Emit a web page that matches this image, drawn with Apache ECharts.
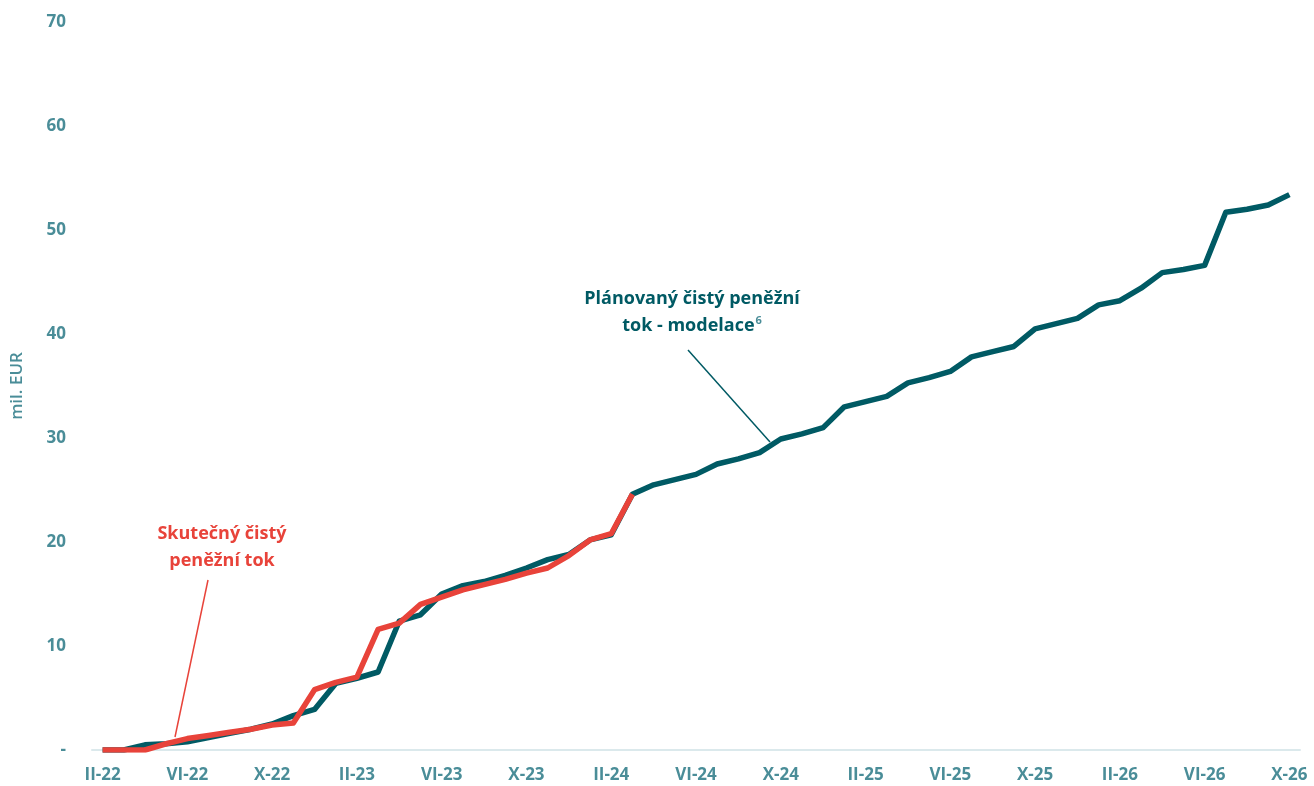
<!DOCTYPE html>
<html>
<head>
<meta charset="utf-8">
<script src="https://cdn.jsdelivr.net/npm/echarts@6/dist/echarts.min.js"></script>
<style>
  html, body { margin: 0; padding: 0; background: #fff; }
  #chart { width: 1314px; height: 786px; }
</style>
</head>
<body>
<div id="chart"></div>
<script>
  // měsíce II-22 .. X-26
  var roman = ['I', 'II', 'III', 'IV', 'V', 'VI', 'VII', 'VIII', 'IX', 'X', 'XI', 'XII']
  var months = []
  for (var y = 22; y <= 26; y++) {
    for (var m = 0; m < 12; m++) {
      if (y === 22 && m < 1) continue
      if (y === 26 && m > 9) continue
      months.push(roman[m] + '-' + y)
    }
  }

  // plánovaný čistý peněžní tok - modelace (mil. EUR)
  var planned = [
    0, 0, 0.5, 0.6, 0.8, 1.2, 1.6, 2.0, 2.5, 3.3,
    3.9, 6.4, 6.9, 7.5, 12.4, 13.0, 15.0, 15.8, 16.2, 16.8,
    17.5, 18.3, 18.8, 20.2, 20.7, 24.6, 25.5, 26.0, 26.5, 27.5,
    28.0, 28.6, 29.9, 30.4, 31.0, 33.0, 33.5, 34.0, 35.3, 35.8,
    36.4, 37.8, 38.3, 38.8, 40.5, 41.0, 41.5, 42.8, 43.2, 44.4,
    45.9, 46.2, 46.6, 51.7, 52.0, 52.4, 53.4
  ]

  // skutečný čistý peněžní tok (mil. EUR), II-22 .. III-24
  var actual = [
    0, 0, 0, 0.6, 1.1, 1.4, 1.7, 2.0, 2.4, 2.6,
    5.8, 6.5, 7.0, 11.6, 12.2, 14.0, 14.7, 15.4, 15.9, 16.4,
    17.0, 17.5, 18.7, 20.2, 20.8, 24.6
  ]

  var yTicks = [0, 10, 20, 30, 40, 50, 60, 70]

  var teal = '#005a64'
  var red = '#e8433a'
  var labelColor = '#4a8d98'
  var font = '"Open Sans", "Noto Sans", sans-serif'

  var chart = echarts.init(document.getElementById('chart'))
  var option = {
    animation: false,
    grid: { left: 92, right: 14, top: 22, bottom: 36 },
    xAxis: {
      type: 'category',
      data: months,
      boundaryGap: true,
      axisLine: { lineStyle: { color: '#dbe9ec', width: 2 } },
      axisTick: { interval: 3, length: 7, lineStyle: { color: '#dbe9ec', width: 2 } },
      axisLabel: {
        interval: 3,
        margin: 17,
        color: labelColor,
        fontFamily: font,
        fontWeight: 'bold',
        fontSize: 17
      }
    },
    yAxis: {
      type: 'value',
      min: yTicks[0],
      max: yTicks[yTicks.length - 1],
      interval: 10,
      name: 'mil. EUR',
      nameLocation: 'middle',
      nameGap: 66,
      nameRotate: 90,
      nameTextStyle: { color: labelColor, fontFamily: font, fontWeight: 600, fontSize: 17 },
      splitLine: { show: false },
      axisLine: { show: false },
      axisTick: { show: false },
      axisLabel: {
        margin: 26,
        color: labelColor,
        fontFamily: font,
        fontWeight: 'bold',
        fontSize: 17,
        formatter: function (v) { return v === 0 ? '-' : v }
      }
    },
    series: [{
      name: 'Plánovaný čistý peněžní tok - modelace',
      type: 'line',
      data: planned,
      symbol: 'none',
      lineStyle: { color: teal, width: 5.5, join: 'round' },
      z: 2
    }, {
      name: 'Skutečný čistý peněžní tok',
      type: 'line',
      data: actual,
      symbol: 'none',
      lineStyle: { color: red, width: 5.5, join: 'round' },
      z: 3
    }],
    graphic: [{
      type: 'text',
      x: 222,
      y: 520,
      style: {
        text: 'Skutečný čistý\npeněžní tok',
        fill: red,
        font: 'bold 18px ' + font,
        align: 'center',
        verticalAlign: 'top',
        lineHeight: 27
      }
    }, {
      type: 'line',
      shape: { x1: 208, y1: 580, x2: 175, y2: 737 },
      style: { stroke: red, lineWidth: 1.5 }
    }, {
      type: 'text',
      x: 692,
      y: 285,
      style: {
        text: 'Plánovaný čistý peněžní\n{t|tok - modelace}{sup|6}',
        fill: teal,
        font: 'bold 18px ' + font,
        align: 'center',
        verticalAlign: 'top',
        lineHeight: 27,
        rich: {
          t: { fill: teal, font: 'bold 18px ' + font },
          sup: { fill: '#4a8d98', font: 'bold 11px ' + font, padding: [0, 0, 10, 1] }
        }
      }
    }, {
      type: 'line',
      shape: { x1: 688, y1: 350, x2: 770, y2: 442 },
      style: { stroke: teal, lineWidth: 1.5 }
    }]
  }
  chart.setOption(option)
</script>
</body>
</html>
